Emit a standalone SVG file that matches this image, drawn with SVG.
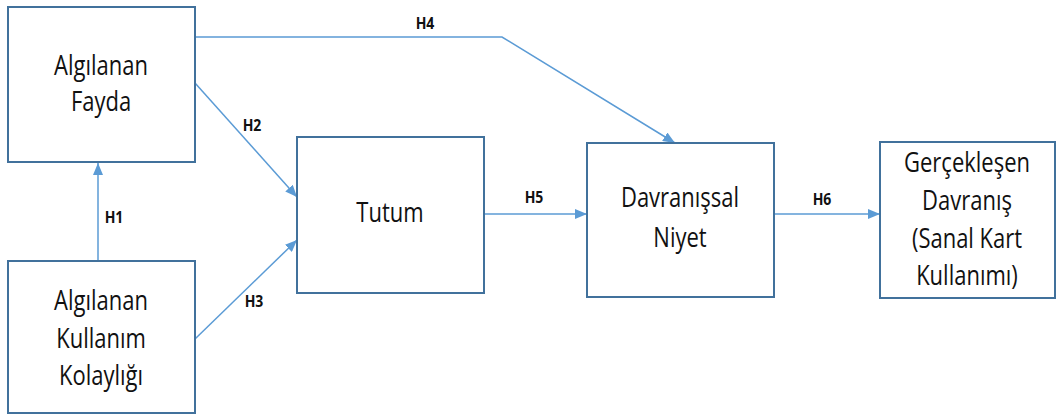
<svg xmlns="http://www.w3.org/2000/svg" width="1057" height="416" viewBox="0 0 1057 416">
<style>
.box{fill:#fff;stroke:#41719C;stroke-width:2}
.t{font-family:"Open Sans","Liberation Sans",sans-serif;font-size:22px;fill:#111;text-anchor:middle}
.lbl{font-family:"Open Sans","Liberation Sans",sans-serif;font-size:14px;font-weight:bold;fill:#111;text-anchor:middle}
.c{fill:none;stroke:#5B9BD5;stroke-width:1.5}
</style>
<defs>
<marker id="ah" viewBox="0 0 12 10" refX="12" refY="5" markerWidth="12" markerHeight="10" markerUnits="userSpaceOnUse" orient="auto">
<path d="M0,0 L12,5 L0,10 Z" fill="#5B9BD5"/>
</marker>
</defs>
<rect width="1057" height="416" fill="#fff"/>
<g id="connectors">
<path class="c" d="M98,261 V163" marker-end="url(#ah)"/>
<path class="c" d="M195,83 L297,197" marker-end="url(#ah)"/>
<path class="c" d="M195,339 L297,240" marker-end="url(#ah)"/>
<path class="c" d="M195,37 H502 L675,143" marker-end="url(#ah)"/>
<path class="c" d="M484,214 H587" marker-end="url(#ah)"/>
<path class="c" d="M774,214 H880" marker-end="url(#ah)"/>
<text class="lbl" transform="translate(114,223) scale(1,1.15)">H1</text>
<text class="lbl" transform="translate(252,131) scale(1,1.15)">H2</text>
<text class="lbl" transform="translate(254,307) scale(1,1.15)">H3</text>
<text class="lbl" transform="translate(425,29) scale(1,1.15)">H4</text>
<text class="lbl" transform="translate(534,203) scale(1,1.15)">H5</text>
<text class="lbl" transform="translate(822,205) scale(1,1.15)">H6</text>
</g>
<g id="fayda">
<rect class="box" x="8" y="7" width="187" height="155"/>
<text class="t" transform="translate(101,75) scale(1,1.2)">Algılanan</text>
<text class="t" transform="translate(101,111) scale(1,1.2)">Fayda</text>
</g>
<g id="kolaylik">
<rect class="box" x="8" y="261" width="187" height="152"/>
<text class="t" transform="translate(101,310) scale(1,1.2)">Algılanan</text>
<text class="t" transform="translate(101,348) scale(1,1.2)">Kullanım</text>
<text class="t" transform="translate(101,385) scale(1,1.2)">Kolaylığı</text>
</g>
<g id="tutum">
<rect class="box" x="297" y="137" width="187" height="156"/>
<text class="t" transform="translate(390,222) scale(1,1.2)">Tutum</text>
</g>
<g id="niyet">
<rect class="box" x="587" y="143" width="187" height="154"/>
<text class="t" transform="translate(680,207) scale(1,1.2)">Davranışsal</text>
<text class="t" transform="translate(680,247) scale(1,1.2)">Niyet</text>
</g>
<g id="davranis">
<rect class="box" x="880" y="142" width="175" height="156"/>
<text class="t" transform="translate(967,172) scale(1,1.2)">Gerçekleşen</text>
<text class="t" transform="translate(967,210) scale(1,1.2)">Davranış</text>
<text class="t" transform="translate(967,248) scale(1,1.2)">(Sanal Kart</text>
<text class="t" transform="translate(967,285) scale(1,1.2)">Kullanımı)</text>
</g>
</svg>
